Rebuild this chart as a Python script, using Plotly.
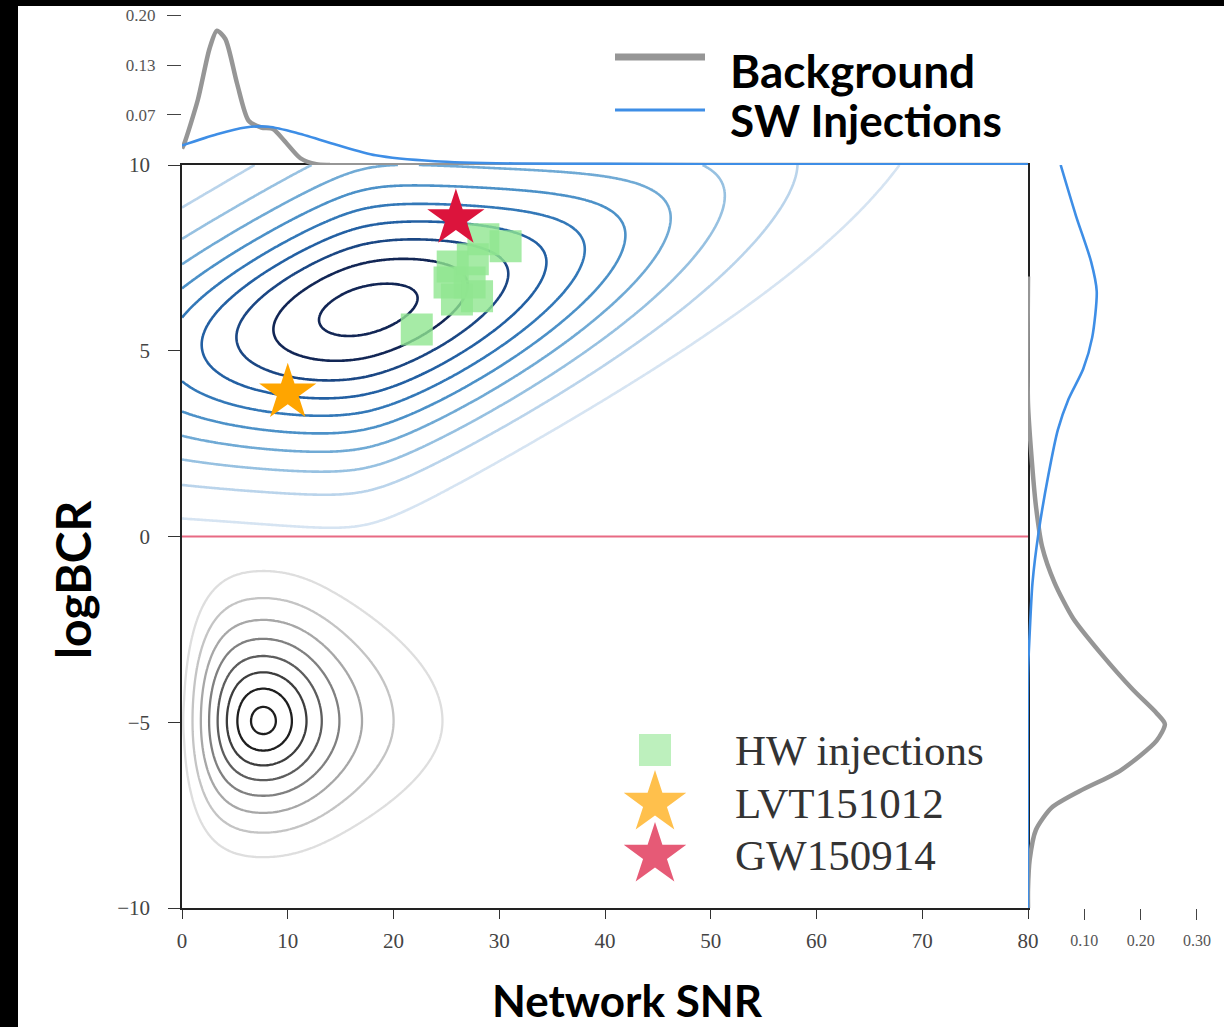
import numpy as np
import plotly.graph_objects as go

# ---------------- data ----------------
# HW injections (Network SNR, logBCR)
hw_snr = [22.2, 25.3, 25.6, 26.0, 27.2, 27.5, 27.9, 28.5, 30.6]
hw_logbcr = [5.57, 6.84, 7.27, 6.38, 6.84, 7.46, 6.47, 8.0, 7.81]
# events
lvt_snr = [10.0]
lvt_logbcr = [3.87]
gw_snr = [25.9]
gw_logbcr = [8.56]
threshold_logbcr = [0.0, 0.0]
threshold_snr = [0, 80]

# top marginal densities (vs Network SNR)
bg_top_snr = [0, 0.2, 1.5, 2.6, 3.3, 4.1, 5.2, 6.3, 7.5, 8.6, 9.7, 11.2, 12.7, 14, 30, 80]
bg_top_den = [0.022, 0.028, 0.087, 0.155, 0.179, 0.168, 0.109, 0.059, 0.050, 0.048, 0.032, 0.009, 0.001, 0.0, 0.0, 0.0]
sw_top_snr = [0, 3.3, 6.0, 8.2, 10.8, 14.6, 18.3, 23.9, 31.4, 40, 50, 60, 70, 80]
sw_top_den = [0.026, 0.041, 0.050, 0.051, 0.043, 0.027, 0.013, 0.005, 0.002, 0.0015, 0.001, 0.001, 0.001, 0.001]

# right marginal densities (vs logBCR)
sw_right_logbcr = [10, 8.64, 7.40, 6.6, 5.36, 4.51, 3.70, 2.87, 1.64, 0.13, -1.24, -2.6, -3.7, -10]
sw_right_den = [0.058, 0.085, 0.112, 0.122, 0.114, 0.098, 0.072, 0.053, 0.036, 0.019, 0.008, 0.003, 0.0, 0.0]
bg_right_logbcr = [7.0, 3.57, 2.19, 0.83, -0.27, -1.24, -2.2, -3.16, -4.12, -4.75, -5.05, -5.5, -6.3, -6.85, -7.3, -7.9, -8.7, -9.5, -10]
bg_right_den = [0.0, 0.0, 0.006, 0.014, 0.025, 0.047, 0.080, 0.13, 0.186, 0.228, 0.243, 0.228, 0.164, 0.092, 0.042, 0.014, 0.003, 0.0, 0.0]

# contour (KDE-like) shape parameters
sw_kde = dict(cx=17.4, cy=6.1, sxl0=25.5, kl=0.0, sxr0=28.0, kr=0.0, kstart=0.0, sx_min=6.0,
              s1=0.06, s2=0.0009,
              syu0=3.7, syu_far=2.2, syu_decay=0.05,
              syd0=3.75, syd_far=1.8, syd_decay=0.030, low_squeeze=0.042, power=0.85)
bg_kde = dict(cx=7.7, cy=-4.97, sxl0=10.5, kl=-0.6, sxr0=9.8, kr=0.33, kstart=6.0, sx_min=6.0,
              s1=0.0, s2=0.0,
              syu0=3.2, syu_far=3.2, syu_decay=0.0,
              syd0=2.9, syd_far=2.9, syd_decay=0.0, low_squeeze=0.0, power=0.7)
sw_levels = [0.05, 0.95, 0.1]
bg_levels = [0.25, 0.95, 0.1]

x_ticks = [0, 10, 20, 30, 40, 50, 60, 70, 80]
y_ticks = [-10, -5, 0, 5, 10]
y_ticktext = ["\u221210", "\u22125", "0", "5", "10"]
top_ticks = [0.0667, 0.1333, 0.2]
top_ticktext = ["0.07", "0.13", "0.20"]
right_ticks = [0.1, 0.2, 0.3]
right_ticktext = ["0.10", "0.20", "0.30"]

# ---------------- figure ----------------
W, H = 1224, 1027
def px(x):
    return x / W
def py(y):
    return 1 - y / H

gx = np.linspace(0, 80, 401)
gy = np.linspace(-10, 10, 501)
GX, GY = np.meshgrid(gx, gy)

def softplus(t, w=1.5):
    return w * np.log1p(np.exp(t / w))

def field(p):
    dx = GX - p["cx"]
    adx = np.abs(dx)
    adx_s = np.sqrt(dx ** 2 + 16.0) - 4.0
    sx_l = np.maximum(p["sx_min"], p["sxl0"] + p["kl"] * adx)
    sx_r = p["sxr0"] + p["kr"] * softplus(adx - p["kstart"])
    sx = np.where(dx < 0, sx_l, sx_r)
    m = p["cy"] + p["s1"] * dx + p["s2"] * np.maximum(dx, 0) ** 2
    dy = GY - m
    sy_u = p["syu_far"] + (p["syu0"] - p["syu_far"]) * np.exp(-p["syu_decay"] * adx_s)
    sy_d = p["syd_far"] + (p["syd0"] - p["syd_far"]) * np.exp(-p["syd_decay"] * adx_s)
    w_u = np.maximum(dy, 0) / sy_u
    w_d = np.maximum(-dy, 0) / sy_d
    v = w_u + w_d * (1 + p["low_squeeze"] * w_d ** 4)
    q = (dx / sx) ** 2 + v ** 2
    return np.exp(-q ** p["power"])

blue_scale = [[0.0, "rgb(214,228,242)"], [0.111, "rgb(190,214,236)"], [0.222, "rgb(160,198,228)"],
              [0.333, "rgb(125,178,218)"], [0.444, "rgb(90,156,206)"], [0.556, "rgb(62,134,194)"],
              [0.667, "rgb(44,112,178)"], [0.778, "rgb(32,90,158)"], [0.889, "rgb(26,68,128)"],
              [1.0, "rgb(18,38,85)"]]
grey_scale = [[0.0, "rgb(222,222,222)"], [0.3, "rgb(175,175,175)"], [0.6, "rgb(105,105,105)"],
              [1.0, "rgb(30,30,30)"]]

fig = go.Figure()

fig.add_trace(go.Contour(
    x=gx, y=gy, z=field(sw_kde), xaxis="x", yaxis="y",
    autocontour=False,
    contours=dict(start=sw_levels[0], end=sw_levels[1], size=sw_levels[2], coloring="lines"),
    colorscale=blue_scale, zmin=sw_levels[0], zmax=sw_levels[1],
    line=dict(width=2.6, smoothing=1.0), showscale=False, hoverinfo="skip"))

fig.add_trace(go.Contour(
    x=gx, y=gy, z=field(bg_kde), xaxis="x", yaxis="y",
    autocontour=False,
    contours=dict(start=bg_levels[0], end=bg_levels[1], size=bg_levels[2], coloring="lines"),
    colorscale=grey_scale, zmin=bg_levels[0], zmax=bg_levels[1],
    line=dict(width=2.3, smoothing=1.0), showscale=False, hoverinfo="skip"))

# threshold line
fig.add_trace(go.Scatter(x=threshold_snr, y=threshold_logbcr, mode="lines",
                         line=dict(color="rgba(228,80,110,0.85)", width=2.2),
                         xaxis="x", yaxis="y", showlegend=False, hoverinfo="skip"))

# points
fig.add_trace(go.Scatter(x=hw_snr, y=hw_logbcr, mode="markers", xaxis="x", yaxis="y",
                         marker=dict(symbol="square", size=32, color="rgba(144,230,144,0.8)", line=dict(width=0)),
                         showlegend=False, name="HW injections"))
fig.add_trace(go.Scatter(x=lvt_snr, y=lvt_logbcr, mode="markers", xaxis="x", yaxis="y",
                         marker=dict(symbol="star", size=43, color="#FFA500", line=dict(width=0)),
                         showlegend=False, name="LVT151012"))
fig.add_trace(go.Scatter(x=gw_snr, y=gw_logbcr, mode="markers", xaxis="x", yaxis="y",
                         marker=dict(symbol="star", size=43, color="#DC143C", line=dict(width=0)),
                         showlegend=False, name="GW150914"))

# marginals
grey_c = "rgb(150,150,150)"
blue_c = "rgb(62,142,230)"
fig.add_trace(go.Scatter(x=bg_top_snr, y=bg_top_den, mode="lines", xaxis="x2", yaxis="y2",
                         line=dict(color=grey_c, width=4.5, shape="spline", smoothing=0.7),
                         showlegend=False, name="Background"))
fig.add_trace(go.Scatter(x=sw_top_snr, y=sw_top_den, mode="lines", xaxis="x2", yaxis="y2",
                         line=dict(color=blue_c, width=2.6, shape="spline", smoothing=0.7),
                         showlegend=False, name="SW Injections"))
fig.add_trace(go.Scatter(x=bg_right_den, y=bg_right_logbcr, mode="lines", xaxis="x3", yaxis="y3",
                         line=dict(color=grey_c, width=4.5, shape="spline", smoothing=0.7),
                         showlegend=False))
fig.add_trace(go.Scatter(x=sw_right_den, y=sw_right_logbcr, mode="lines", xaxis="x3", yaxis="y3",
                         line=dict(color=blue_c, width=2.6, shape="spline", smoothing=0.7),
                         showlegend=False))

# legend symbols on a pixel overlay axis
leg_px = [655, 655, 655]
leg_py = [750, 803, 855]
fig.add_trace(go.Scatter(x=leg_px, y=leg_py, mode="markers", xaxis="x4", yaxis="y4",
                         marker=dict(symbol=["square", "star", "star"], size=[32, 47, 47],
                                     color=["rgba(144,230,144,0.85)", "#FFA500", "#DC143C"], line=dict(width=0)),
                         showlegend=False, hoverinfo="skip"))

serif = "Liberation Serif"
tick_col = "#444"
xd = [px(182), px(1028)]
yd = [py(908), py(165)]

fig.update_layout(
    width=W, height=H, autosize=False,
    margin=dict(l=0, r=0, t=0, b=0, pad=0),
    paper_bgcolor="white", plot_bgcolor="rgba(0,0,0,0)",
    template="none", showlegend=False,
    xaxis=dict(domain=xd, range=[0, 80], anchor="y", tickvals=x_ticks, ticks="outside", ticklen=9,
               tickcolor="#333", showline=True, linecolor="#222", linewidth=1.5, mirror=True,
               ticklabelstandoff=4,
               showgrid=False, zeroline=False, tickfont=dict(family=serif, size=21, color=tick_col)),
    yaxis=dict(domain=yd, range=[-10, 10], anchor="x", tickvals=y_ticks,
               ticktext=y_ticktext, ticks="outside", ticklen=12, ticklabelstandoff=14,
               tickcolor="#333", showline=True, linecolor="#222", linewidth=1.5, mirror=True,
               showgrid=False, zeroline=False, tickfont=dict(family=serif, size=21, color=tick_col)),
    xaxis2=dict(domain=xd, matches="x", anchor="y2", visible=False, showgrid=False),
    yaxis2=dict(domain=[py(165), py(15)], range=[0, 0.2], anchor="x2", tickvals=top_ticks,
                ticktext=top_ticktext, ticks="outside", ticklen=14, tickcolor="#444", ticklabelstandoff=8,
                showline=False, showgrid=False, zeroline=False,
                tickfont=dict(family=serif, size=17, color="#555")),
    xaxis3=dict(domain=[px(1028), 1.0], range=[0, 196 / 563.3], anchor="y3", tickvals=right_ticks,
                ticktext=right_ticktext, ticks="outside", ticklen=11, tickcolor="#444", ticklabelstandoff=7,
                showline=False, showgrid=False, zeroline=False,
                tickfont=dict(family=serif, size=16, color="#555")),
    yaxis3=dict(domain=yd, matches="y", anchor="x3", visible=False, showgrid=False),
    xaxis4=dict(domain=[0, 1], range=[0, W], anchor="y4", visible=False, fixedrange=True),
    yaxis4=dict(domain=[0, 1], range=[H, 0], anchor="x4", visible=False, fixedrange=True),
)

# black framing bands of the picture
fig.add_shape(type="rect", xref="paper", yref="paper", x0=0, x1=px(18), y0=0, y1=1,
              fillcolor="black", line=dict(width=0), layer="above")
fig.add_shape(type="rect", xref="paper", yref="paper", x0=0, x1=1, y0=py(6), y1=1,
              fillcolor="black", line=dict(width=0), layer="above")

# top legend
fig.add_shape(type="line", xref="paper", yref="paper", x0=px(615), x1=px(705), y0=py(57), y1=py(57),
              line=dict(color="rgb(150,150,150)", width=7))
fig.add_shape(type="line", xref="paper", yref="paper", x0=px(615), x1=px(705), y0=py(110), y1=py(110),
              line=dict(color=blue_c, width=3))

sans = "Lato"
fig.add_annotation(text="<b>Background</b>", xref="paper", yref="paper", x=px(728), y=py(70),
                   xanchor="left", yanchor="middle", showarrow=False, font=dict(family=sans, size=46, color="black"))
fig.add_annotation(text="<b>SW Injections</b>", xref="paper", yref="paper", x=px(728), y=py(120),
                   xanchor="left", yanchor="middle", showarrow=False, font=dict(family=sans, size=44, color="black"))
fig.add_annotation(text="<b>Network SNR</b>", xref="paper", yref="paper", x=px(627), y=py(1000),
                   xanchor="center", yanchor="middle", showarrow=False, font=dict(family=sans, size=44, color="black"))
fig.add_annotation(text="<b>logBCR</b>", xref="paper", yref="paper", x=px(72), y=py(580), textangle=-90,
                   xanchor="center", yanchor="middle", showarrow=False, font=dict(family=sans, size=48, color="black"))

for label, yy in zip(["HW injections", "LVT151012", "GW150914"], leg_py):
    fig.add_annotation(text=label, xref="paper", yref="paper", x=px(733), y=py(yy),
                       xanchor="left", yanchor="middle", showarrow=False,
                       font=dict(family=serif, size=43, color="#333"))

fig.write_html("out.html")
